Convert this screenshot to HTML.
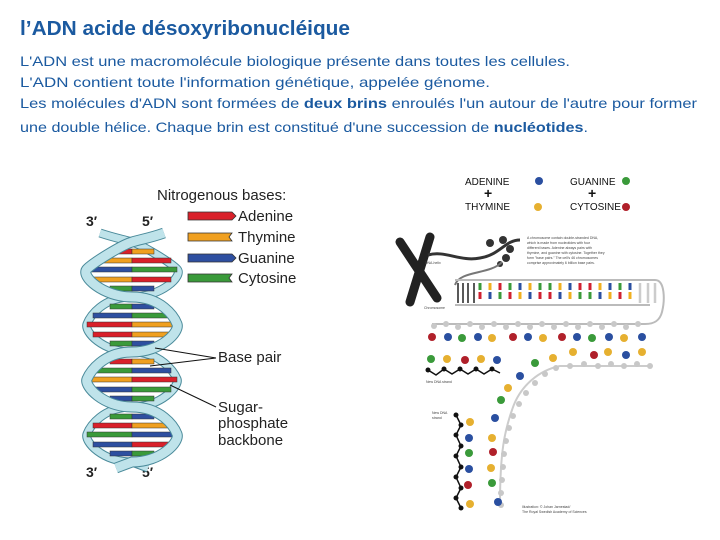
<!DOCTYPE html>
<html><head><meta charset="utf-8"><style>
html,body{margin:0;padding:0;background:#fff;}
svg{display:block;}
</style></head><body>
<svg width="720" height="540" xmlns="http://www.w3.org/2000/svg" font-family="Liberation Sans, sans-serif">
<rect width="720" height="540" fill="#fff"/>
<text x="20" y="35" font-size="20" font-weight="bold" fill="#1b5aa0" textLength="330" lengthAdjust="spacingAndGlyphs">l’ADN acide désoxyribonucléique</text>
<g font-size="14" fill="#1b5aa0">
<text x="20" y="66" textLength="550" lengthAdjust="spacingAndGlyphs">L'ADN est une macromolécule biologique  présente dans toutes les cellules.</text>
<text x="20" y="87" textLength="470" lengthAdjust="spacingAndGlyphs">L'ADN contient toute l'information génétique, appelée génome.</text>
<text x="20" y="108" textLength="677" lengthAdjust="spacingAndGlyphs">Les molécules d'ADN sont formées de <tspan font-weight="bold">deux brins</tspan> enroulés l'un autour de l'autre pour former</text>
<text x="20" y="132" textLength="568" lengthAdjust="spacingAndGlyphs">une double hélice. Chaque brin est constitué d'une succession de <tspan font-weight="bold">nucléotides</tspan>.</text>
</g>

<!-- Left diagram -->
<text x="157" y="200" font-size="15" fill="#222">Nitrogenous bases:</text>
<g stroke="#333" stroke-width="0.8">
<path d="M188,212 h44 l4,4 l-4,4 h-44z" fill="#d9202a"/>
<path d="M188,233 h44 l-3,4 l3,4 h-44z" fill="#f0a020"/>
<path d="M188,254 h44 l4,4 l-4,4 h-44z" fill="#2e4fa0"/>
<path d="M188,274 h44 l-3,4 l3,4 h-44z" fill="#3a9a3a"/>
</g>
<g font-size="15" fill="#222">
<text x="238" y="221">Adenine</text>
<text x="238" y="242">Thymine</text>
<text x="238" y="263">Guanine</text>
<text x="238" y="283">Cytosine</text>
<text x="218" y="362">Base pair</text>
<text x="218" y="412">Sugar-</text>
<text x="218" y="428">phosphate</text>
<text x="218" y="445">backbone</text>
</g>
<g font-size="14" font-weight="bold" fill="#222">
<text x="86" y="226">3′</text><text x="142" y="226">5′</text>
<text x="86" y="477">3′</text><text x="142" y="477">5′</text>
</g>
<!-- back strand -->
<path d="M100,233 C115,238 122,239 132,242 S170,262 177,269 S161,297 132,297 S90,316 87,324 S103,352 132,352 S174,372 177,379 S161,407 132,407 S90,426 87,434 S103,462 132,462 L148,468" fill="none" stroke="#4a8a9a" stroke-width="9"/>
<path d="M100,233 C115,238 122,239 132,242 S170,262 177,269 S161,297 132,297 S90,316 87,324 S103,352 132,352 S174,372 177,379 S161,407 132,407 S90,426 87,434 S103,462 132,462 L148,468" fill="none" stroke="#bfe3ea" stroke-width="7"/>
<!-- base pairs -->
<g stroke="#333" stroke-width="0.5">
<rect x="110" y="249" width="22" height="5" fill="#d9202a"/><rect x="132" y="249" width="22" height="5" fill="#f0a020"/>
<rect x="93" y="258" width="39" height="5" fill="#f0a020"/><rect x="132" y="258" width="39" height="5" fill="#d9202a"/>
<rect x="87" y="267" width="45" height="5" fill="#2e4fa0"/><rect x="132" y="267" width="45" height="5" fill="#3a9a3a"/>
<rect x="93" y="277" width="39" height="5" fill="#f0a020"/><rect x="132" y="277" width="39" height="5" fill="#d9202a"/>
<rect x="110" y="286" width="22" height="5" fill="#3a9a3a"/><rect x="132" y="286" width="22" height="5" fill="#2e4fa0"/>
<rect x="110" y="304" width="22" height="5" fill="#3a9a3a"/><rect x="132" y="304" width="22" height="5" fill="#2e4fa0"/>
<rect x="93" y="313" width="39" height="5" fill="#2e4fa0"/><rect x="132" y="313" width="39" height="5" fill="#3a9a3a"/>
<rect x="87" y="322" width="45" height="5" fill="#d9202a"/><rect x="132" y="322" width="45" height="5" fill="#f0a020"/>
<rect x="93" y="332" width="39" height="5" fill="#d9202a"/><rect x="132" y="332" width="39" height="5" fill="#f0a020"/>
<rect x="110" y="341" width="22" height="5" fill="#3a9a3a"/><rect x="132" y="341" width="22" height="5" fill="#2e4fa0"/>
<rect x="110" y="359" width="22" height="5" fill="#d9202a"/><rect x="132" y="359" width="22" height="5" fill="#f0a020"/>
<rect x="93" y="368" width="39" height="5" fill="#3a9a3a"/><rect x="132" y="368" width="39" height="5" fill="#2e4fa0"/>
<rect x="87" y="377" width="45" height="5" fill="#f0a020"/><rect x="132" y="377" width="45" height="5" fill="#d9202a"/>
<rect x="93" y="387" width="39" height="5" fill="#2e4fa0"/><rect x="132" y="387" width="39" height="5" fill="#3a9a3a"/>
<rect x="110" y="396" width="22" height="5" fill="#2e4fa0"/><rect x="132" y="396" width="22" height="5" fill="#3a9a3a"/>
<rect x="110" y="414" width="22" height="5" fill="#3a9a3a"/><rect x="132" y="414" width="22" height="5" fill="#2e4fa0"/>
<rect x="93" y="423" width="39" height="5" fill="#d9202a"/><rect x="132" y="423" width="39" height="5" fill="#f0a020"/>
<rect x="87" y="432" width="45" height="5" fill="#3a9a3a"/><rect x="132" y="432" width="45" height="5" fill="#2e4fa0"/>
<rect x="93" y="442" width="39" height="5" fill="#2e4fa0"/><rect x="132" y="442" width="39" height="5" fill="#d9202a"/>
<rect x="110" y="451" width="22" height="5" fill="#2e4fa0"/><rect x="132" y="451" width="22" height="5" fill="#3a9a3a"/>
</g>
<!-- front strand -->
<path d="M164,233 C150,238 142,239 132,242 S94,262 87,269 S103,297 132,297 S174,316 177,324 S161,352 132,352 S90,372 87,379 S103,407 132,407 S174,426 177,434 S161,462 132,462 L116,468" fill="none" stroke="#4a8a9a" stroke-width="11"/>
<path d="M164,233 C150,238 142,239 132,242 S94,262 87,269 S103,297 132,297 S174,316 177,324 S161,352 132,352 S90,372 87,379 S103,407 132,407 S174,426 177,434 S161,462 132,462 L116,468" fill="none" stroke="#bfe3ea" stroke-width="9"/>
<g stroke="#111" stroke-width="1" fill="none">
<path d="M216,358 L155,348 M216,358 L150,366"/>
<path d="M216,407 L170,385"/>
</g>

<!-- Right diagram -->
<g font-size="10" fill="#111">
<text x="465" y="185">ADENINE</text>
<text x="465" y="210">THYMINE</text>
<text x="570" y="185">GUANINE</text>
<text x="570" y="210">CYTOSINE</text>
</g>
<g font-size="14" font-weight="bold" fill="#111"><text x="484" y="198">+</text><text x="588" y="198">+</text></g>
<circle cx="539" cy="181" r="4" fill="#2a4fa0"/>
<circle cx="538" cy="207" r="4" fill="#e6b030"/>
<circle cx="626" cy="181" r="4" fill="#3a9a3a"/>
<circle cx="626" cy="207" r="4" fill="#b0202a"/>
<!-- chromosome -->
<g stroke="#222" stroke-width="9" stroke-linecap="round">
<path d="M400,242 L437,298"/><path d="M430,237 L410,302"/>
</g>
<path d="M428,255 C445,250 460,262 480,258 C500,255 505,240 520,240" fill="none" stroke="#333" stroke-width="3"/>
<g fill="#333"><circle cx="490" cy="243" r="4"/><circle cx="503" cy="240" r="4"/><circle cx="510" cy="249" r="4"/><circle cx="506" cy="258" r="4"/><circle cx="500" cy="264" r="3"/></g>
<path d="M502,262 C490,275 460,270 455,285" fill="none" stroke="#777" stroke-width="2"/>
<g font-size="3.5" fill="#444">
<text x="527" y="239">A chromosome contain double-stranded DNA,</text>
<text x="527" y="244">which is made from nucleotides with four</text>
<text x="527" y="249">different bases. Adenine always pairs with</text>
<text x="527" y="254">thymine, and guanine with cytosine. Together they</text>
<text x="527" y="259">form "base pairs." The cell's 46 chromosomes</text>
<text x="527" y="264">comprise approximately 6 billion base pairs.</text>
<text x="425" y="264">DNA-helix</text>
<text x="424" y="309">Chromosome</text>
<text x="426" y="383">New DNA strand</text>
<text x="432" y="414">New DNA</text><text x="432" y="419">strand</text>
<text x="522" y="508">Illustration: © Johan Jarnestad/</text>
<text x="522" y="513">The Royal Swedish Academy of Sciences</text>
</g>
<!-- ladder -->
<path d="M455,280 H655 C665,280 665,300 662,312 C660,320 655,324 645,324 H432" fill="none" stroke="#bbb" stroke-width="2"/>
<path d="M455,305 H650" stroke="#bbb" stroke-width="2"/>
<g stroke="#222" stroke-width="1.5"><path d="M458,283v20M463,283v20M468,283v20M474,283v20"/></g>
<g stroke-width="3">
<path d="M480,283v7" stroke="#3a9a3a"/><path d="M480,292v7" stroke="#d02030"/>
<path d="M490,283v7" stroke="#f0b020"/><path d="M490,292v7" stroke="#2a4fa0"/>
<path d="M500,283v7" stroke="#d02030"/><path d="M500,292v7" stroke="#3a9a3a"/>
<path d="M510,283v7" stroke="#3a9a3a"/><path d="M510,292v7" stroke="#d02030"/>
<path d="M520,283v7" stroke="#2a4fa0"/><path d="M520,292v7" stroke="#f0b020"/>
<path d="M530,283v7" stroke="#f0b020"/><path d="M530,292v7" stroke="#2a4fa0"/>
<path d="M540,283v7" stroke="#3a9a3a"/><path d="M540,292v7" stroke="#d02030"/>
<path d="M550,283v7" stroke="#3a9a3a"/><path d="M550,292v7" stroke="#d02030"/>
<path d="M560,283v7" stroke="#f0b020"/><path d="M560,292v7" stroke="#2a4fa0"/>
<path d="M570,283v7" stroke="#2a4fa0"/><path d="M570,292v7" stroke="#f0b020"/>
<path d="M580,283v7" stroke="#d02030"/><path d="M580,292v7" stroke="#3a9a3a"/>
<path d="M590,283v7" stroke="#d02030"/><path d="M590,292v7" stroke="#3a9a3a"/>
<path d="M600,283v7" stroke="#f0b020"/><path d="M600,292v7" stroke="#2a4fa0"/>
<path d="M610,283v7" stroke="#2a4fa0"/><path d="M610,292v7" stroke="#f0b020"/>
<path d="M620,283v7" stroke="#3a9a3a"/><path d="M620,292v7" stroke="#d02030"/>
<path d="M630,283v7" stroke="#2a4fa0"/><path d="M630,292v7" stroke="#f0b020"/>
</g>
<g stroke="#ccc" stroke-width="2.5"><path d="M640,283v20M648,283v20M655,283v20"/></g>
<!-- grey beads row -->
<g fill="#c8c8c8">
<circle cx="434" cy="326" r="3"/><circle cx="446" cy="324" r="3"/><circle cx="458" cy="327" r="3"/><circle cx="470" cy="324" r="3"/><circle cx="482" cy="327" r="3"/><circle cx="494" cy="324" r="3"/><circle cx="506" cy="327" r="3"/><circle cx="518" cy="324" r="3"/><circle cx="530" cy="327" r="3"/><circle cx="542" cy="324" r="3"/><circle cx="554" cy="327" r="3"/><circle cx="566" cy="324" r="3"/><circle cx="578" cy="327" r="3"/><circle cx="590" cy="324" r="3"/><circle cx="602" cy="327" r="3"/><circle cx="614" cy="324" r="3"/><circle cx="626" cy="327" r="3"/><circle cx="638" cy="324" r="3"/>
</g>
<g>
<circle cx="432" cy="337" r="4" fill="#b0202a"/><circle cx="448" cy="337" r="4" fill="#2a4fa0"/><circle cx="462" cy="338" r="4" fill="#3a9a3a"/><circle cx="478" cy="337" r="4" fill="#2a4fa0"/><circle cx="492" cy="338" r="4" fill="#e6b030"/><circle cx="513" cy="337" r="4" fill="#b0202a"/><circle cx="528" cy="337" r="4" fill="#2a4fa0"/><circle cx="543" cy="338" r="4" fill="#e6b030"/><circle cx="562" cy="337" r="4" fill="#b0202a"/><circle cx="577" cy="337" r="4" fill="#2a4fa0"/><circle cx="592" cy="338" r="4" fill="#3a9a3a"/><circle cx="609" cy="337" r="4" fill="#2a4fa0"/><circle cx="624" cy="338" r="4" fill="#e6b030"/><circle cx="642" cy="337" r="4" fill="#2a4fa0"/>
<circle cx="594" cy="355" r="4" fill="#b0202a"/><circle cx="608" cy="352" r="4" fill="#e6b030"/><circle cx="626" cy="355" r="4" fill="#2a4fa0"/><circle cx="642" cy="352" r="4" fill="#e6b030"/><circle cx="573" cy="352" r="4" fill="#e6b030"/>
</g>
<!-- fork grey strand -->
<path d="M650,366 H560 C540,370 520,385 512,410 C505,430 500,450 500,505" fill="none" stroke="#ccc" stroke-width="2"/>
<g fill="#c8c8c8">
<circle cx="650" cy="366" r="3"/><circle cx="637" cy="364" r="3"/><circle cx="624" cy="366" r="3"/><circle cx="611" cy="364" r="3"/><circle cx="598" cy="366" r="3"/><circle cx="584" cy="364" r="3"/><circle cx="570" cy="366" r="3"/><circle cx="556" cy="368" r="3"/><circle cx="545" cy="374" r="3"/><circle cx="535" cy="383" r="3"/><circle cx="526" cy="393" r="3"/><circle cx="519" cy="404" r="3"/><circle cx="513" cy="416" r="3"/><circle cx="509" cy="428" r="3"/><circle cx="506" cy="441" r="3"/><circle cx="504" cy="454" r="3"/><circle cx="503" cy="467" r="3"/><circle cx="502" cy="480" r="3"/><circle cx="501" cy="493" r="3"/><circle cx="501" cy="505" r="3"/>
</g>
<g>
<circle cx="553" cy="358" r="4" fill="#e6b030"/><circle cx="535" cy="363" r="4" fill="#3a9a3a"/><circle cx="520" cy="376" r="4" fill="#2a4fa0"/><circle cx="508" cy="388" r="4" fill="#e6b030"/><circle cx="501" cy="400" r="4" fill="#3a9a3a"/><circle cx="495" cy="418" r="4" fill="#2a4fa0"/><circle cx="492" cy="438" r="4" fill="#e6b030"/><circle cx="493" cy="452" r="4" fill="#b0202a"/><circle cx="491" cy="468" r="4" fill="#e6b030"/><circle cx="492" cy="483" r="4" fill="#3a9a3a"/><circle cx="498" cy="502" r="4" fill="#2a4fa0"/>
</g>
<!-- new DNA strand horizontal -->
<path d="M428,370 L436,375 L444,369 L452,374 L460,369 L468,374 L476,369 L484,374 L492,369 L500,373" fill="none" stroke="#111" stroke-width="1.5"/>
<g fill="#111"><circle cx="428" cy="370" r="2.5"/><circle cx="444" cy="369" r="2.5"/><circle cx="460" cy="369" r="2.5"/><circle cx="476" cy="369" r="2.5"/><circle cx="492" cy="369" r="2.5"/></g>
<circle cx="431" cy="359" r="4" fill="#3a9a3a"/><circle cx="447" cy="359" r="4" fill="#e6b030"/><circle cx="465" cy="360" r="4" fill="#b0202a"/><circle cx="481" cy="359" r="4" fill="#e6b030"/><circle cx="497" cy="360" r="4" fill="#2a4fa0"/>
<!-- new DNA strand vertical -->
<path d="M456,415 L461,425 L456,435 L461,446 L456,456 L461,467 L456,477 L461,488 L456,498 L461,508" fill="none" stroke="#111" stroke-width="1.5"/>
<g fill="#111"><circle cx="456" cy="415" r="2.5"/><circle cx="461" cy="425" r="2.5"/><circle cx="456" cy="435" r="2.5"/><circle cx="461" cy="446" r="2.5"/><circle cx="456" cy="456" r="2.5"/><circle cx="461" cy="467" r="2.5"/><circle cx="456" cy="477" r="2.5"/><circle cx="461" cy="488" r="2.5"/><circle cx="456" cy="498" r="2.5"/><circle cx="461" cy="508" r="2.5"/></g>
<circle cx="470" cy="422" r="4" fill="#e6b030"/><circle cx="469" cy="438" r="4" fill="#2a4fa0"/><circle cx="469" cy="453" r="4" fill="#3a9a3a"/><circle cx="469" cy="469" r="4" fill="#2a4fa0"/><circle cx="468" cy="485" r="4" fill="#b0202a"/><circle cx="470" cy="504" r="4" fill="#e6b030"/>
</svg>
</body></html>
